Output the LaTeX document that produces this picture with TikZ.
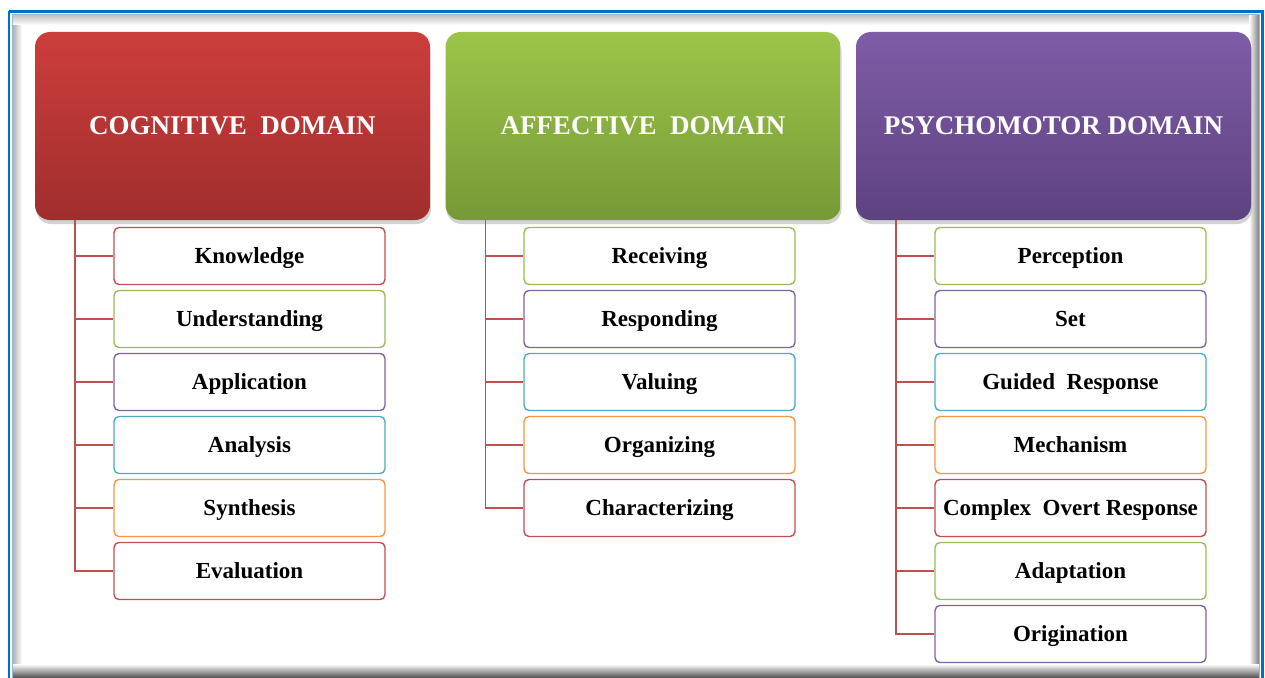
\documentclass[tikz,border=0pt]{standalone}
\usepackage{fontspec}
\setmainfont{Liberation Serif}
\usetikzlibrary{shadows}
\definecolor{cred}{HTML}{C0504D}
\definecolor{cgreen}{HTML}{9BBB59}
\definecolor{cpurple}{HTML}{8064A2}
\definecolor{cblue}{HTML}{4BACC6}
\definecolor{corange}{HTML}{F79646}
\definecolor{frameblue}{HTML}{0070C0}
\definecolor{redtop}{HTML}{CC3E3C}
\definecolor{redbot}{HTML}{A02E2D}
\definecolor{greentop}{HTML}{9CC54A}
\definecolor{greenbot}{HTML}{779936}
\definecolor{purpletop}{HTML}{7F5CA7}
\definecolor{purplebot}{HTML}{5D4280}
\tikzset{
  hdr/.style={rounded corners=15pt, minimum width=395pt, minimum height=188pt,
    inner sep=0pt, text=white, font=\fontsize{27}{30}\selectfont\bfseries,
    drop shadow={shadow xshift=1pt, shadow yshift=-4pt, opacity=0.35}},
  item/.style={draw=#1, line width=1.4pt, fill=white, rounded corners=5pt,
    minimum width=271pt, minimum height=57pt, inner sep=0pt,
    text height=17.5pt, text depth=3pt,
    font=\fontsize{23}{25}\selectfont\bfseries},
  conn/.style={draw=cred, line width=1.4pt}
}
\begin{document}
\begin{tikzpicture}[x=1pt,y=-1pt]
\useasboundingbox (0,0) rectangle (1265,677);
\fill[white] (0,0) rectangle (1265,677);
% inner shadow of frame
\shade[left color=black!30, right color=white] (13,15) rectangle (22,677);
\shade[top color=black!25, bottom color=white] (13,15) rectangle (1258,25);
\shade[left color=white, right color=black!50] (1249,15) rectangle (1259,677);
\shade[top color=white, bottom color=black!65] (13,664) rectangle (1259,677);
% frame
\draw[frameblue, line width=2.5pt] (9,11.5) -- (1262.5,11.5) -- (1262.5,680);
\draw[frameblue, line width=2.5pt] (9,11.5) -- (9,680);
\draw[frameblue!45, line width=1pt] (12.5,14.5) -- (1259.5,14.5) -- (1259.5,680);
\draw[frameblue!45, line width=1pt] (12.5,14.5) -- (12.5,680);

% headers
\node[hdr, top color=redtop, bottom color=redbot] (h1) at (232.5,126) {COGNITIVE\ \ DOMAIN};
\node[hdr, top color=greentop, bottom color=greenbot] (h2) at (643,126) {AFFECTIVE\ \ DOMAIN};
\node[hdr, top color=purpletop, bottom color=purplebot] (h3) at (1053.5,126) {PSYCHOMOTOR DOMAIN};

\coordinate (v1) at ([xshift=40pt]h1.south west);
\coordinate (v2) at ([xshift=40pt]h2.south west);
\coordinate (v3) at ([xshift=40pt]h3.south west);

% cognitive
\node[item=cred]    (c1) at (249.5,256) {Knowledge};
\node[item=cgreen]  (c2) at (249.5,319) {Understanding};
\node[item=cpurple] (c3) at (249.5,382) {Application};
\node[item=cblue]   (c4) at (249.5,445) {Analysis};
\node[item=corange] (c5) at (249.5,508) {Synthesis};
\node[item=cred]    (c6) at (249.5,571) {Evaluation};
% affective
\node[item=cgreen]  (a1) at (659.5,256) {Receiving};
\node[item=cpurple] (a2) at (659.5,319) {Responding};
\node[item=cblue]   (a3) at (659.5,382) {Valuing};
\node[item=corange] (a4) at (659.5,445) {Organizing};
\node[item=cred]    (a5) at (659.5,508) {Characterizing};
% psychomotor
\node[item=cgreen]  (p1) at (1070.5,256) {Perception};
\node[item=cpurple] (p2) at (1070.5,319) {Set};
\node[item=cblue]   (p3) at (1070.5,382) {Guided\ \ Response};
\node[item=corange] (p4) at (1070.5,445) {Mechanism};
\node[item=cred]    (p5) at (1070.5,508) {Complex\ \ Overt Response};
\node[item=cgreen]  (p6) at (1070.5,571) {Adaptation};
\node[item=cpurple] (p7) at (1070.5,634) {Origination};

% connectors
\foreach \n in {c1,c2,c3,c4,c5,c6} \draw[conn] (v1) |- (\n.west);
\foreach \n in {a1,a2,a3,a4,a5} \draw[conn] (v2) |- (\n.west);
\foreach \n in {p1,p2,p3,p4,p5,p6,p7} \draw[conn] (v3) |- (\n.west);
\end{tikzpicture}
\end{document}
